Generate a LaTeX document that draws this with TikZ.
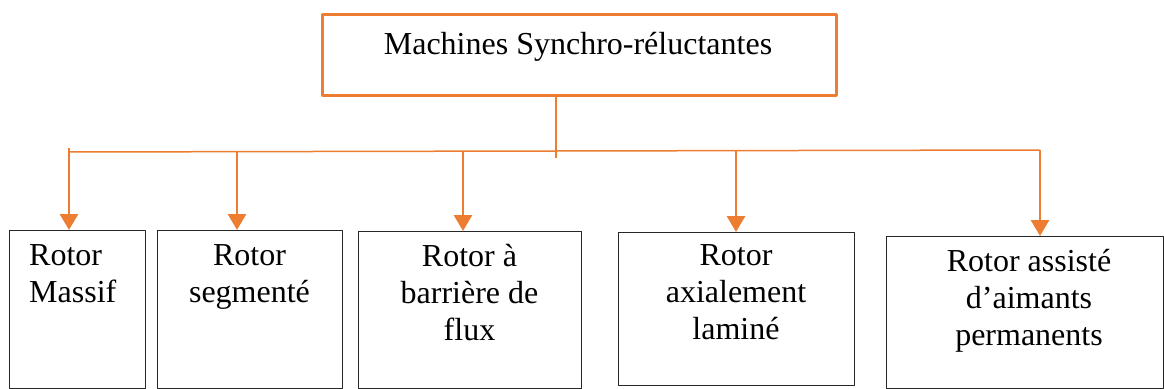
\documentclass[tikz,border=0pt]{standalone}
\usepackage{fontspec}
\setmainfont{Liberation Serif}
\usetikzlibrary{arrows.meta}
\definecolor{orangeoff}{HTML}{ED7D31}
\tikzset{
  boite/.style={draw=black!85, line width=1.1pt, anchor=north west, inner sep=0pt},
  titre/.style={draw=orangeoff, line width=2.5pt, anchor=north west, inner sep=0pt},
  texte/.style={font=\fontsize{32}{37}\selectfont, align=center, inner sep=0pt, anchor=north, execute at begin node=\strut},
  lien/.style={draw=orangeoff, line width=1.5pt},
  fleche/.style={draw=orangeoff, line width=2.8pt, -{Triangle[width=18pt,length=16pt]}}
}
\begin{document}
\begin{tikzpicture}[x=1pt, y=-1pt, line join=round]
			\useasboundingbox (0,0) rectangle (1164,388);
			% boites
			\node[titre, minimum width=514pt, minimum height=81pt] (msr) at (321,13) {};
			\node[boite, minimum width=136pt, minimum height=158pt] (massif) at (9,230) {};
			\node[boite, minimum width=185pt, minimum height=157.5pt] (segm) at (157,230) {};
			\node[boite, minimum width=223pt, minimum height=156.5pt] (barr) at (358,231) {};
			\node[boite, minimum width=236pt, minimum height=153pt] (axial) at (618,232) {};
			\node[boite, minimum width=277pt, minimum height=151.5pt] (assist) at (886,236) {};
			% textes
			\node[texte] (tmsr) at (578,28) {Machines Synchro-réluctantes};
			\node[texte, align=left, anchor=north west] (tmassif) at (29,244) {Rotor\\Massif};
			\node[texte] (tsegm) at (249.5,244) {Rotor\\segmenté};
			\node[texte] (tbarr) at (469.5,244) {Rotor à\\barrière de\\flux};
			\node[texte] (taxial) at (736,244) {Rotor\\axialement\\laminé};
			\node[texte] (tassist) at (1029,249) {Rotor assisté\\d’aimants\\permanents};
			% liaisons
			\path
			(556,158) coordinate (d0)
			(69,152) coordinate (g)
			(1040,150) coordinate (dr)
			;
			\draw[lien] (msr.south -| d0)--(d0);
			\draw[lien] (g)--(dr);
			\foreach \b/\x/\y in {massif/69/148,segm/237/151.5,barr/463/151,axial/736/150.5,assist/1040/150}
			{
			\path (\x,\y) coordinate (a\b);
			\draw[fleche] (a\b)--(a\b |- \b.north);
			}
\end{tikzpicture}
\end{document}
